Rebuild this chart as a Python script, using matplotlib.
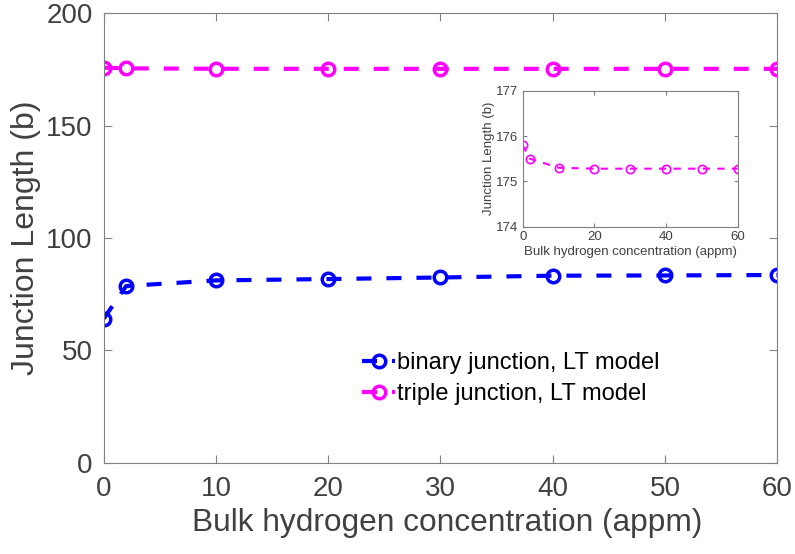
import matplotlib
matplotlib.use("Agg")
from matplotlib import pyplot as plt

plt.rcParams['font.family'] = ['Liberation Sans', 'DejaVu Sans']

# bulk hydrogen concentration (appm)
conc = [0, 2, 10, 20, 30, 40, 50, 60]
# junction lengths (b)
binary_len = [64.1, 78.6, 81.1, 81.7, 82.4, 83.2, 83.3, 83.5]
triple_len = [175.8, 175.5, 175.3, 175.28, 175.28, 175.28, 175.28, 175.28]

label_col = '#404040'
spine_col = '#808080'

fig = plt.figure(figsize=(7.95, 5.54), dpi=100)
ax = fig.add_axes([0.1305, 0.165, 0.847, 0.811])

ax.plot(conc, binary_len, color='blue', linestyle='--', dashes=(3.6, 3.6), lw=3,
        marker='o', ms=9, mfc='none', mew=2.5, label='binary junction, LT model')
ax.plot(conc, triple_len, color='magenta', linestyle='--', dashes=(3.6, 3.6), lw=3,
        marker='o', ms=9, mfc='none', mew=2.5, label='triple junction, LT model')

ax.set_xlim(0, 60)
ax.set_ylim(0, 200)
ax.set_xticks(range(0, 61, 10))
ax.set_yticks(range(0, 201, 50))
ax.tick_params(direction='in', top=True, right=True, labelsize=20, colors=spine_col,
               labelcolor=label_col, length=6, pad=10)
ax.tick_params(axis='y', pad=8)
for s in ax.spines.values():
    s.set_color(spine_col)
ax.set_xlabel('Bulk hydrogen concentration (appm)', fontsize=22.8, color=label_col)
ax.xaxis.set_label_coords(0.51, -0.1)
ax.set_ylabel('Junction Length (b)', fontsize=23, color=label_col)

leg = ax.legend(loc='lower left', bbox_to_anchor=(0.352, 0.08), frameon=False, fontsize=17,
                handlelength=1.4, handletextpad=0.1, labelspacing=0.4)

# inset
ins = fig.add_axes([0.6575, 0.5908, 0.2704, 0.2455])
ins.plot(conc, triple_len, color='magenta', linestyle='--', dashes=(3.5, 3.5), lw=1.5,
         marker='o', ms=6, mfc='none', mew=1.2)
ins.set_xlim(0, 60)
ins.set_ylim(174, 177)
ins.set_xticks(range(0, 61, 20))
ins.set_yticks([174, 175, 176, 177])
ins.tick_params(direction='in', top=True, right=True, labelsize=9.5, colors=spine_col,
                labelcolor=label_col, length=3, pad=3)
for s in ins.spines.values():
    s.set_color(spine_col)
ins.set_xlabel('Bulk hydrogen concentration (appm)', fontsize=9.5, color=label_col, labelpad=2)
ins.set_ylabel('Junction Length (b)', fontsize=9.5, color=label_col, labelpad=1)

fig.savefig('out.png', dpi=100)
